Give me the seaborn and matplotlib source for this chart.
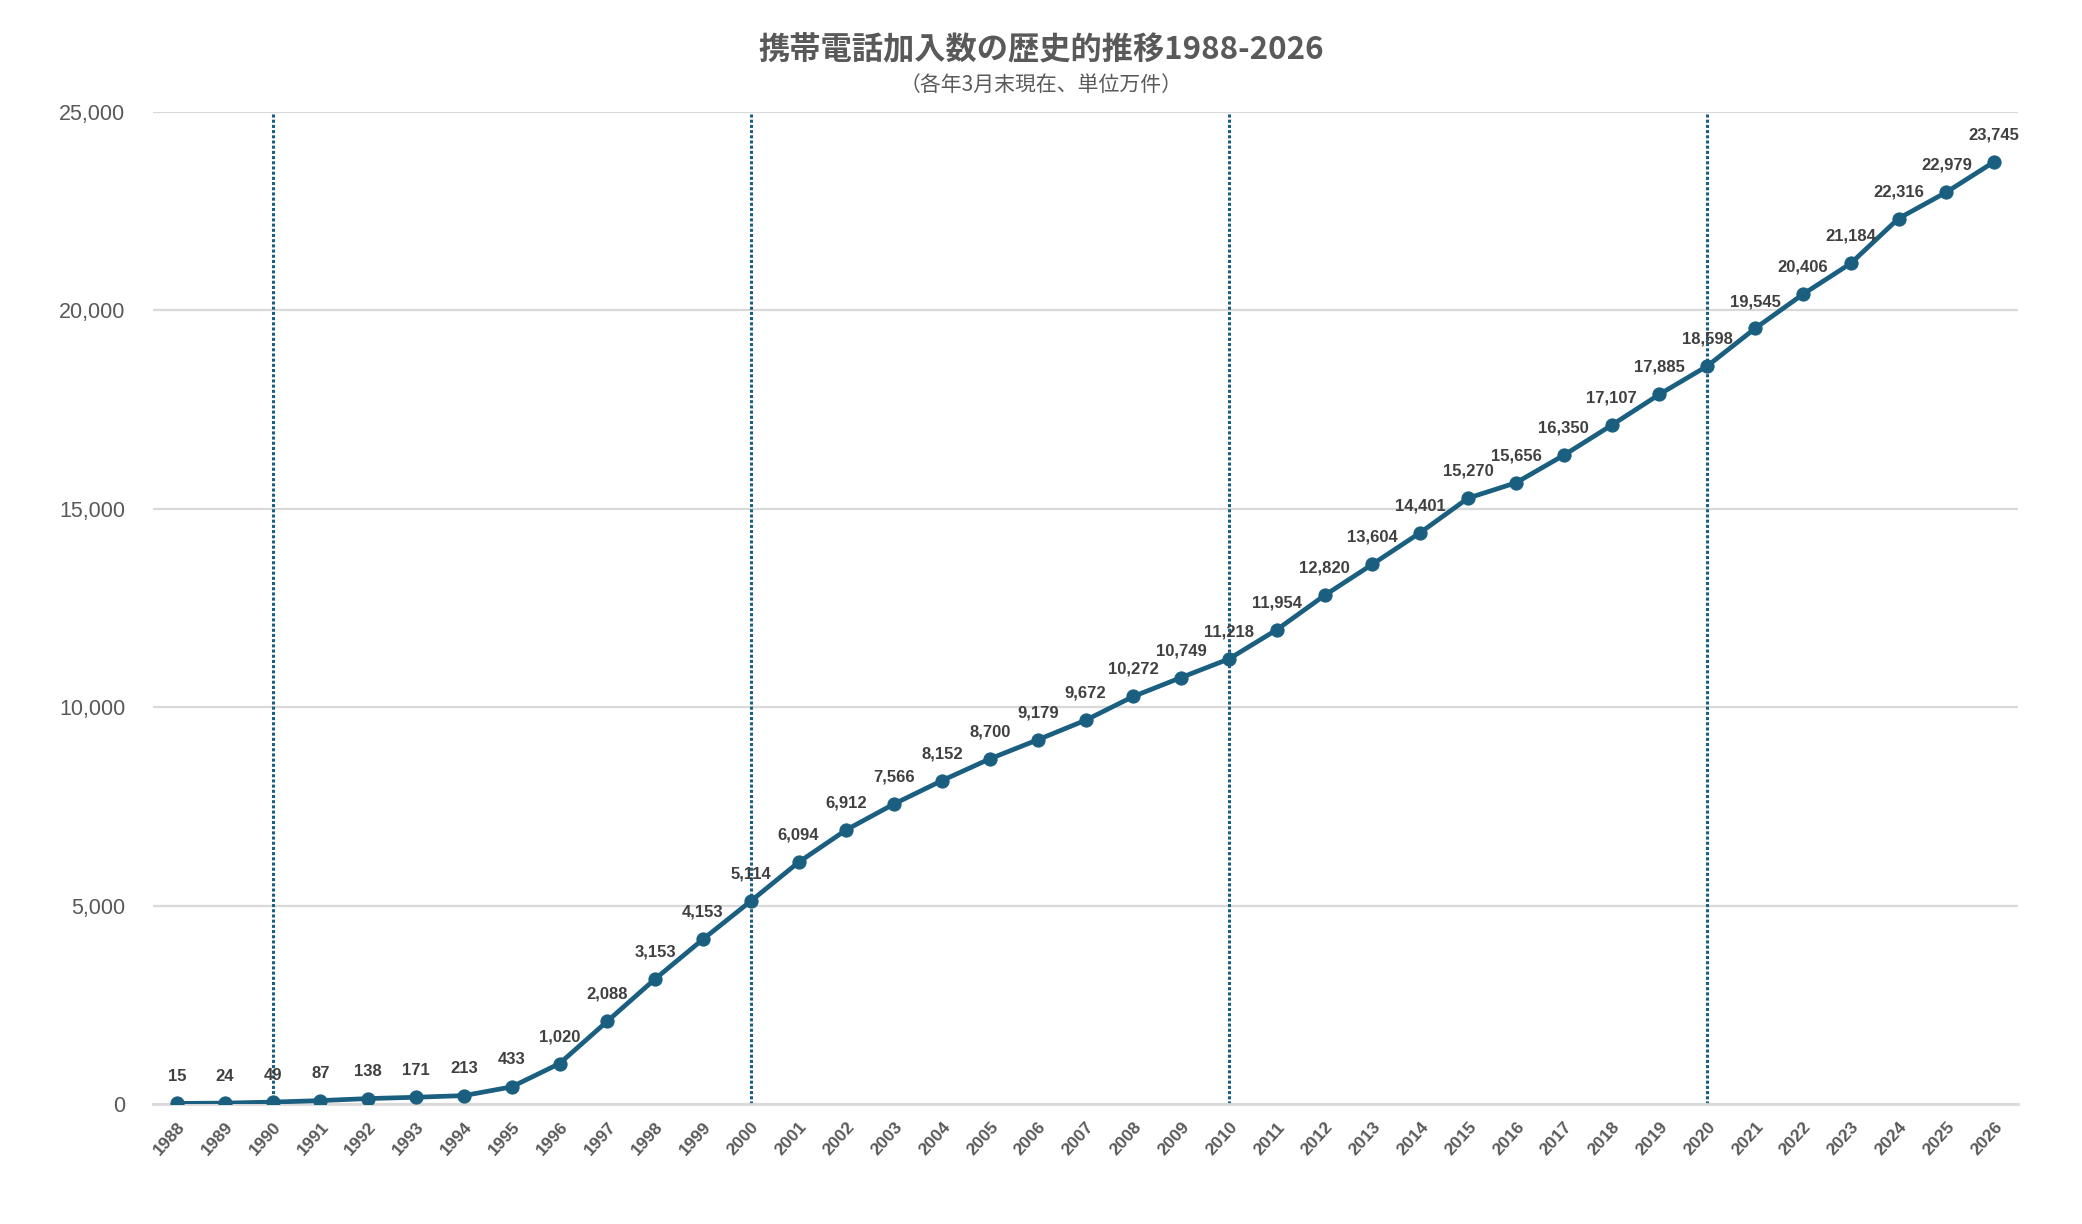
import matplotlib
matplotlib.use("Agg")
import matplotlib.pyplot as plt
import seaborn as sns
import pandas as pd
from matplotlib.ticker import FuncFormatter, MultipleLocator

years = list(range(1988, 2027))
subscribers = [15, 24, 49, 87, 138, 171, 213, 433, 1020, 2088, 3153, 4153, 5114,
               6094, 6912, 7566, 8152, 8700, 9179, 9672, 10272, 10749, 11218, 11954,
               12820, 13604, 14401, 15270, 15656, 16350, 17107, 17885, 18598, 19545,
               20406, 21184, 22316, 22979, 23745]
decade_years = [1990, 2000, 2010, 2020]
title = "携帯電話加入数の歴史的推移1988-2026"
subtitle = "（各年3月末現在、単位万件）"

df = pd.DataFrame({"year": years, "value": subscribers})

sns.set_theme(style="white")
plt.rcParams['font.family'] = ['Liberation Sans', 'Noto Sans CJK JP', 'DejaVu Sans']

LINE = "#1a5f80"
GRID = "#d9d9d9"
TXT = "#595959"
LAB = "#404040"

fig = plt.figure(figsize=(20.82, 12.24), dpi=100)
ax = fig.add_axes([0.0735, 0.098, 0.8958, 0.8105])

ax.set_ylim(0, 25000)
ax.set_xlim(1987.5, 2026.5)

ax.yaxis.set_major_locator(MultipleLocator(5000))
ax.grid(axis="y", color=GRID, linewidth=1.6, zorder=0)
ax.set_axisbelow(True)

ax.vlines(decade_years, 0, 25000, colors=LINE, linestyles=(0, (1.0, 0.7)),
          linewidth=2.2, zorder=1)

sns.lineplot(data=df, x="year", y="value", ax=ax, color=LINE, linewidth=3.4,
             marker="o", markersize=9.5, markeredgecolor=LINE, markerfacecolor=LINE,
             zorder=3)

for x, v in zip(years, subscribers):
    ax.annotate(f"{v:,}", (x, v), xytext=(0, 14), textcoords="offset points",
                ha="center", va="bottom", fontsize=12, fontweight="bold",
                color=LAB, zorder=4)

for s in ["left", "right", "top"]:
    ax.spines[s].set_visible(False)
ax.spines["bottom"].set_color(GRID)
ax.spines["bottom"].set_linewidth(2)

ax.set_xticks(years)
ax.set_xticklabels([str(y) for y in years], rotation=48, ha="right",
                   rotation_mode="anchor", fontsize=12.5, fontweight="bold", color=TXT)
ax.set_xticks([y + 0.5 for y in [years[0] - 1] + years], minor=True)
ax.tick_params(axis="x", which="major", length=0, pad=11)
ax.tick_params(axis="x", which="minor", length=6, width=2, color=GRID, direction="out")

ax.yaxis.set_major_formatter(FuncFormatter(lambda v, p: f"{int(v):,}"))
ax.tick_params(axis="y", length=0, pad=20, labelsize=15.5, labelcolor=TXT)

ax.set_xlabel("")
ax.set_ylabel("")

fig.text(0.5, 0.96, title, ha="center", va="center", fontsize=22.5, fontweight="bold",
         color=TXT, family=['Noto Sans CJK JP', 'DejaVu Sans'])
fig.text(0.5, 0.931, subtitle, ha="center", va="center", fontsize=15,
         color=TXT, family=['Noto Sans CJK JP', 'DejaVu Sans'])

fig.savefig("out.png", dpi=100)
